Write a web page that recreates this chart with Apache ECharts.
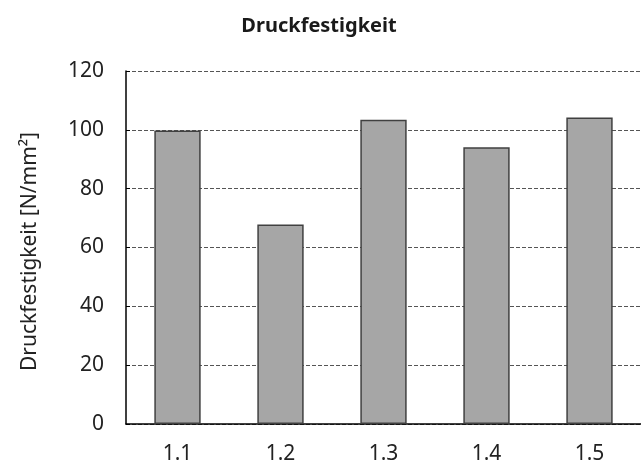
<!DOCTYPE html>
<html>
<head>
<meta charset="utf-8">
<script src="https://cdn.jsdelivr.net/npm/echarts@6/dist/echarts.min.js"></script>
<style>
  html, body { margin: 0; padding: 0; background: #fff; }
  #chart { width: 641px; height: 466px; }
</style>
</head>
<body>
<div id="chart"></div>
<script>
// Daten
var categories = ['1.1', '1.2', '1.3', '1.4', '1.5']
var druckfestigkeit = [99.8, 67.8, 103.4, 94.1, 104.2]
var yMin = 0
var yMax = 120
var yStep = 20

var chart = echarts.init(document.getElementById('chart'))

chart.setOption({
  backgroundColor: '#ffffff',
  textStyle: {
    fontFamily: 'Noto Sans'
  },
  title: {
    text: 'Druckfestigkeit',
    left: 314,
    textAlign: 'center',
    top: 11,
    textStyle: {
      fontWeight: 'bold',
      fontSize: 20,
      color: '#1a1a1a'
    }
  },
  grid: {
    left: 126,
    top: 71,
    width: 522,
    height: 353,
    containLabel: false
  },
  // x-Achse
  xAxis: {
    type: 'category',
    data: categories,
    axisLine: {
      lineStyle: { color: '#000', width: 1.5 }
    },
    axisTick: { show: false },
    axisLabel: {
      margin: 20,
      fontSize: 21,
      color: '#222'
    }
  },
  // y-Achse
  yAxis: {
    type: 'value',
    min: yMin,
    max: yMax,
    interval: yStep,
    name: 'Druckfestigkeit [N/mm²]',
    nameLocation: 'middle',
    nameGap: 85,
    nameTextStyle: {
      fontSize: 21,
      color: '#222',
      padding: [0, 8, 0, 0]
    },
    axisLine: {
      show: true,
      lineStyle: { color: '#000', width: 1.5 }
    },
    axisTick: {
      show: true,
      inside: true,
      length: 4,
      lineStyle: { color: '#000' }
    },
    axisLabel: {
      margin: 22,
      fontSize: 21,
      color: '#222'
    },
    splitLine: {
      lineStyle: {
        color: '#555',
        type: [4, 2],
        width: 1
      }
    }
  },
  series: [{
    name: 'Druckfestigkeit',
    type: 'bar',
    data: druckfestigkeit,
    barWidth: '45%',
    itemStyle: {
      color: '#a6a6a6',
      borderColor: '#404040',
      borderWidth: 1.5
    }
  }]
})
</script>
</body>
</html>
